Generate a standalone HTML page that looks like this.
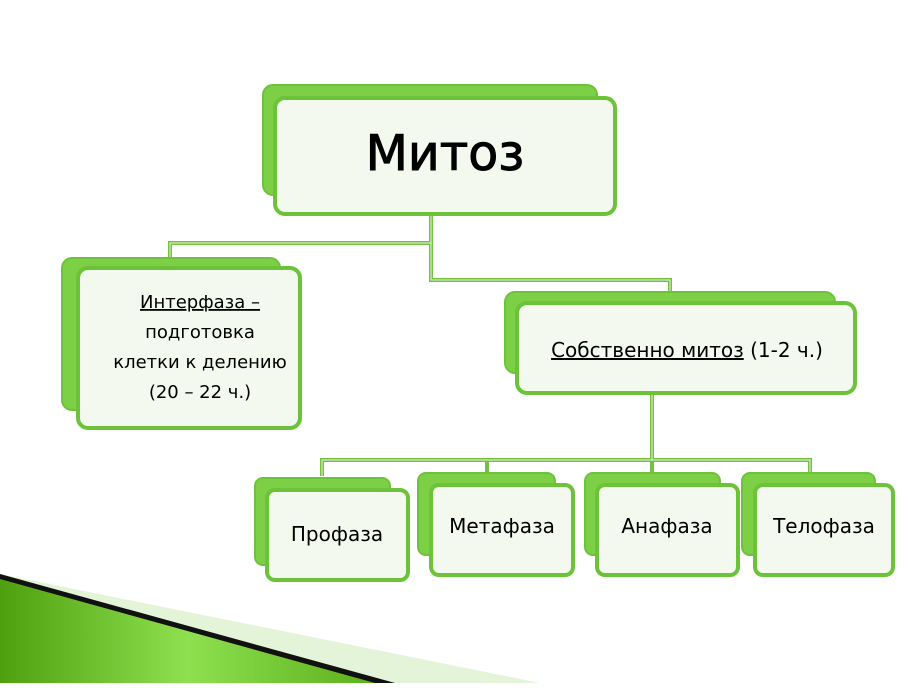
<!DOCTYPE html>
<html><head><meta charset="utf-8"><style>
body{margin:0;width:910px;height:683px;overflow:hidden;background:#fff}
svg text{font-family:"DejaVu Sans","Liberation Sans",sans-serif;fill:#000}
</style></head><body>
<svg width="910" height="683" viewBox="0 0 910 683" xmlns="http://www.w3.org/2000/svg">
<defs>
<linearGradient id="g" x1="0" y1="0" x2="1" y2="0">
<stop offset="0" stop-color="#4fa00f"/><stop offset="0.5" stop-color="#8ee050"/><stop offset="1" stop-color="#5cb01a"/></linearGradient>
</defs>
<polygon points="0,574 540,683 0,683" fill="#e3f4d8"/>
<polygon points="0,574 395,683 0,683" fill="#111"/>
<polygon points="0,579 375,683 0,683" fill="url(#g)"/>
<g fill="none" stroke="#74c040" stroke-width="4">
<path d="M431,214 V243 H170 V260"/>
<path d="M431,214 V280 H670 V294"/>
<path d="M652,393 V460"/>
<path d="M322,476 V460 H810 V476"/>
<path d="M487,460 V475 M652,460 V475"/>
</g>
<g fill="none" stroke="#e8f5df" stroke-width="1">
<path d="M431,214 V243 H170 V260"/>
<path d="M431,214 V280 H670 V294"/>
<path d="M652,393 V460"/>
<path d="M322,476 V460 H810 V476"/>
</g>
<g stroke="#6cc33a" stroke-width="2">
<rect x="263" y="85" width="334" height="110" rx="10" fill="#7dd045"/>
<rect x="275" y="98" width="340" height="116" rx="10" fill="#f3f9ee" stroke-width="4"/>
<rect x="62" y="258" width="218" height="152" rx="10" fill="#7dd045"/>
<rect x="78" y="268" width="222" height="160" rx="10" fill="#f3f9ee" stroke-width="4"/>
<rect x="505" y="292" width="330" height="81" rx="10" fill="#7dd045"/>
<rect x="517" y="303" width="338" height="90" rx="10" fill="#f3f9ee" stroke-width="4"/>
<rect x="255" y="478" width="135" height="87" rx="8" fill="#7dd045"/>
<rect x="267" y="490" width="141" height="90" rx="8" fill="#f3f9ee" stroke-width="4"/>
<rect x="418" y="473" width="137" height="82" rx="8" fill="#7dd045"/>
<rect x="431" y="485" width="142" height="90" rx="8" fill="#f3f9ee" stroke-width="4"/>
<rect x="585" y="473" width="135" height="82" rx="8" fill="#7dd045"/>
<rect x="597" y="485" width="141" height="90" rx="8" fill="#f3f9ee" stroke-width="4"/>
<rect x="742" y="473" width="133" height="82" rx="8" fill="#7dd045"/>
<rect x="755" y="485" width="138" height="90" rx="8" fill="#f3f9ee" stroke-width="4"/>
</g>
<text x="445" y="170" font-size="49" text-anchor="middle" stroke="#000" stroke-width="1">Митоз</text>
<g font-size="18" text-anchor="middle">
<text x="200" y="308" text-decoration="underline">Интерфаза –</text>
<text x="200" y="338">подготовка</text>
<text x="200" y="368">клетки к делению</text>
<text x="200" y="398">(20 – 22 ч.)</text>
</g>
<g font-size="20" text-anchor="middle">
<text x="687" y="357"><tspan text-decoration="underline">Собственно митоз</tspan> (1-2 ч.)</text>
<text x="337" y="541">Профаза</text>
<text x="502" y="533">Метафаза</text>
<text x="667" y="533">Анафаза</text>
<text x="824" y="533">Телофаза</text>
</g>
</svg>
</body></html>
